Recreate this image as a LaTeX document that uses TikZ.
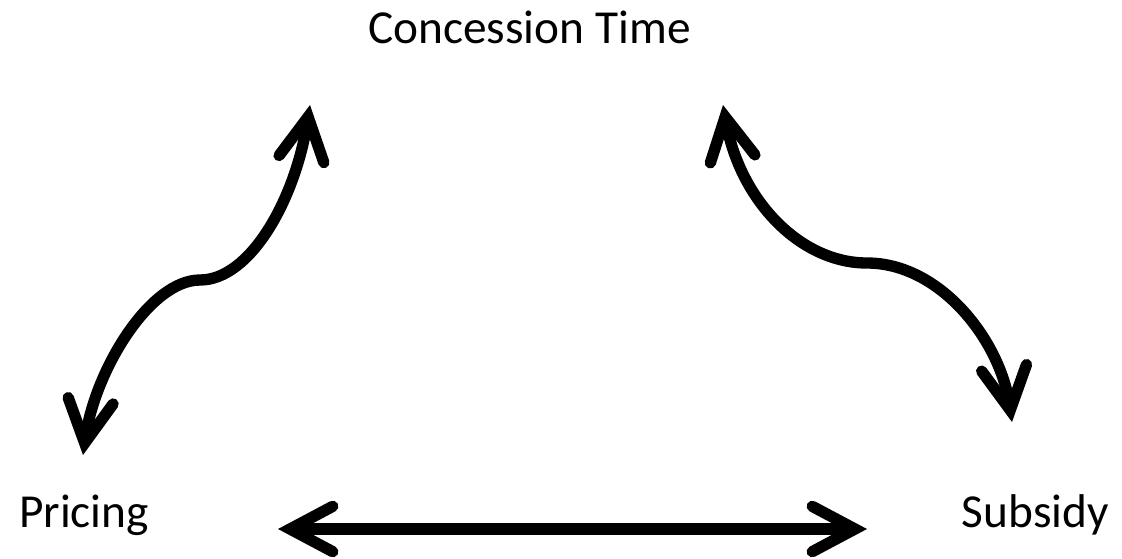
\documentclass[tikz,border=0pt]{standalone}
\usepackage{fontspec}
\setmainfont{Carlito}
\usetikzlibrary{arrows.meta}
\tikzset{mybarb/.tip={Straight Barb[length=32pt,width=34pt,line cap=round,line join=miter]}}
\begin{document}
\begin{tikzpicture}[x=0.75pt,y=-0.75pt,
  lbl/.style={inner sep=0pt,font=\fontsize{35.5}{42}\selectfont},
  link/.style={line width=8.5pt,{mybarb}-{mybarb}}]
\useasboundingbox (0,0) rectangle (1122,558);
\node[lbl,anchor=base] (ct) at (529.5,43) {Concession Time};
\node[lbl,anchor=base] (pr) at (84,527) {Pricing};
\node[lbl,anchor=base east] (sb) at (1109,527) {Subsidy};
\coordinate (lt) at (310,105);
\coordinate (lm) at (200,280);
\coordinate (lb) at (83,455);
\coordinate (rt) at (723,105);
\coordinate (rm) at (867,263);
\coordinate (rb) at (1012,422);
\coordinate (bl) at (278,529);
\coordinate (br) at (867,529);
\draw[link] (lt) .. controls (295,200) and (250,280) .. (lm)
            .. controls (150,280) and (95,370) .. (lb);
\draw[link] (rt) .. controls (740,200) and (800,263) .. (rm)
            .. controls (940,263) and (1000,340) .. (rb);
\draw[link] (bl) -- (br);
\end{tikzpicture}
\end{document}
